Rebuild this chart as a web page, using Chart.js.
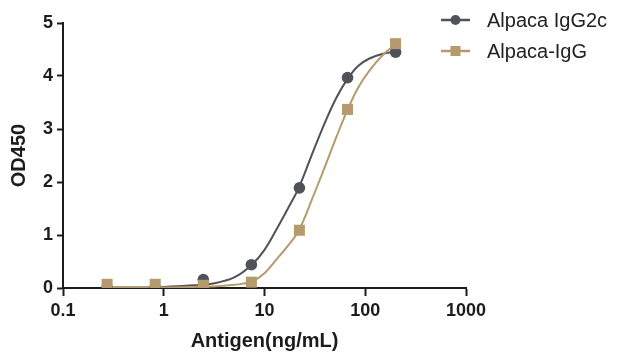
<!DOCTYPE html>
<html lang="en">
  <head>
    <meta charset="UTF-8" />
    <title>Alpaca IgG ELISA</title>
    <script src="https://cdn.jsdelivr.net/npm/chart.js"></script>
    <style>
      body {
        margin: 0;
        padding: 0;
        background: #fff;
      }
      #chart {
        display: block;
      }
    </style>
  </head>
  <body>
    <canvas id="chart" width="628" height="360"></canvas>

    <script>
      // measured points (3-fold dilution from 200 ng/mL)
      const concentrations = [0.274, 0.823, 2.47, 7.41, 22.2, 66.7, 200];
      const igg2cOD = [0.01, 0.01, 0.16, 0.44, 1.89, 3.97, 4.45];
      const iggOD = [0.07, 0.07, 0.05, 0.11, 1.09, 3.37, 4.61];

      // fitted curves
      const fitX = [0.274, 0.5, 1, 2, 3, 5, 7.4, 10, 14, 18, 22, 30, 40, 52, 67, 85, 110, 150, 200];
      const igg2cFit = [0.01, 0.01, 0.02, 0.05, 0.08, 0.2, 0.43, 0.72, 1.2, 1.58, 1.9, 2.55, 3.13, 3.6, 3.95, 4.19, 4.33, 4.42, 4.46];
      const iggFit = [0.01, 0.01, 0.01, 0.02, 0.03, 0.06, 0.12, 0.28, 0.6, 0.85, 1.09, 1.7, 2.3, 2.86, 3.37, 3.78, 4.1, 4.4, 4.6];

      const xTickValues = [0.1, 1, 10, 100, 1000];
      const xTickLabels = ["0.1", "1", "10", "100", "1000"];
      const yTickValues = [0, 1, 2, 3, 4, 5];

      const seriesNames = ["Alpaca IgG2c", "Alpaca-IgG"];
      const gray = "#505259";
      const tan = "#b59a6e";
      const ink = "#1c1c1c";

      const pts = (xs, ys) => xs.map((x, i) => ({ x: x, y: ys[i] }));

      // legend drawn by hand so it can sit over the plot's right edge
      const sideLegend = {
        id: "sideLegend",
        afterDraw(chart) {
          const ctx = chart.ctx;
          const rows = [
            { text: seriesNames[0], color: gray, shape: "circle", y: 20 },
            { text: seriesNames[1], color: tan, shape: "rect", y: 51 },
          ];
          ctx.save();
          rows.forEach((r) => {
            ctx.strokeStyle = r.color;
            ctx.lineWidth = 2.5;
            ctx.beginPath();
            ctx.moveTo(441, r.y);
            ctx.lineTo(470, r.y);
            ctx.stroke();
            ctx.fillStyle = r.color;
            if (r.shape === "circle") {
              ctx.beginPath();
              ctx.arc(455.5, r.y, 5, 0, Math.PI * 2);
              ctx.fill();
            } else {
              ctx.fillRect(450.5, r.y - 5, 10, 10);
            }
            ctx.fillStyle = "#222";
            ctx.font = '20px "Liberation Sans", Arial, sans-serif';
            ctx.textBaseline = "middle";
            ctx.textAlign = "left";
            ctx.fillText(r.text, 487, r.y + 1);
          });
          ctx.restore();
        },
      };

      const tickFont = { family: '"Liberation Sans", Arial, sans-serif', size: 18, weight: "bold" };
      const titleFont = { family: '"Liberation Sans", Arial, sans-serif', size: 20, weight: "bold" };

      new Chart(document.getElementById("chart"), {
        type: "scatter",
        data: {
          datasets: [
            {
              label: seriesNames[1],
              data: pts(concentrations, iggOD),
              pointStyle: "rect",
              pointRadius: 7.8,
              pointHoverRadius: 7.8,
              pointBackgroundColor: tan,
              pointBorderWidth: 0,
              showLine: false,
            },
            {
              label: seriesNames[0],
              data: pts(concentrations, igg2cOD),
              pointStyle: "circle",
              pointRadius: 5.8,
              pointHoverRadius: 5.8,
              pointBackgroundColor: gray,
              pointBorderWidth: 0,
              showLine: false,
            },
            {
              label: seriesNames[1] + " fit",
              data: pts(fitX, iggFit),
              showLine: true,
              borderColor: tan,
              borderWidth: 2,
              pointRadius: 0,
              tension: 0.4,
            },
            {
              label: seriesNames[0] + " fit",
              data: pts(fitX, igg2cFit),
              showLine: true,
              borderColor: gray,
              borderWidth: 2,
              pointRadius: 0,
              tension: 0.4,
            },
          ],
        },
        options: {
          responsive: false,
          animation: false,
          layout: { padding: { left: 0, top: 23, right: 162, bottom: 0 } },
          plugins: {
            legend: { display: false },
            tooltip: { enabled: false },
          },
          scales: {
            x: {
              type: "logarithmic",
              min: 0.1,
              max: 1000,
              afterBuildTicks: (scale) => {
                scale.ticks = xTickValues.map((v) => ({ value: v }));
              },
              afterFit: (scale) => {
                scale.height = 72;
              },
              ticks: {
                color: ink,
                font: tickFont,
                padding: 4,
                maxRotation: 0,
                autoSkip: false,
                callback: (v, i) => xTickLabels[i],
              },
              grid: {
                drawOnChartArea: false,
                drawTicks: true,
                tickLength: 8,
                tickWidth: 2,
                tickColor: ink,
              },
              border: { display: true, color: ink, width: 2 },
              title: {
                display: true,
                text: "Antigen(ng/mL)",
                color: ink,
                font: titleFont,
                padding: { top: 0, bottom: 7 },
              },
            },
            y: {
              min: 0,
              max: 5,
              afterBuildTicks: (scale) => {
                scale.ticks = yTickValues.map((v) => ({ value: v }));
              },
              afterFit: (scale) => {
                scale.width = 63;
              },
              ticks: {
                color: ink,
                font: tickFont,
                padding: 4,
                callback: (v) => String(v),
              },
              grid: {
                drawOnChartArea: false,
                drawTicks: true,
                tickLength: 6,
                tickWidth: 2,
                tickColor: ink,
              },
              border: { display: true, color: ink, width: 2 },
              title: {
                display: true,
                text: "OD450",
                color: ink,
                font: titleFont,
                padding: { top: 7, bottom: 0 },
              },
            },
          },
        },
        plugins: [sideLegend],
      });
    </script>
  </body>
</html>
